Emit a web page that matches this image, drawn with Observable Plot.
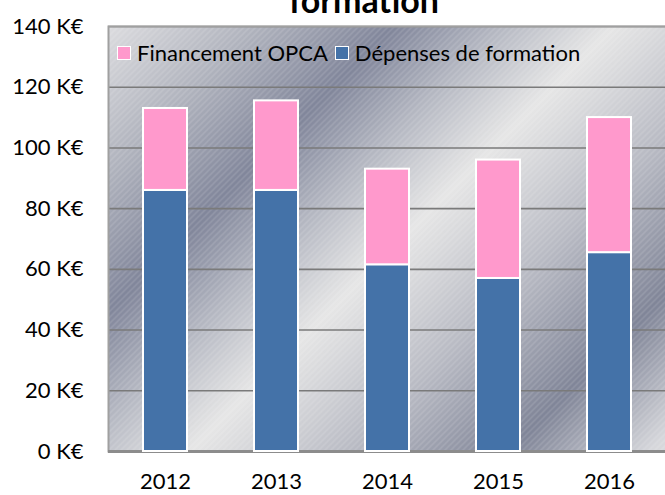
<!DOCTYPE html>
<html>
<head>
<meta charset="utf-8">
<script src="https://cdn.jsdelivr.net/npm/d3@7"></script>
<script src="https://cdn.jsdelivr.net/npm/@observablehq/plot@0.6"></script>
<style>
  html, body { margin: 0; padding: 0; background: white; overflow: hidden; }
  #wrap { position: relative; width: 665px; height: 495px; }
  #legend { position: absolute; left: 117px; top: 42px; display: flex; align-items: center;
    font-family: Lato, sans-serif; font-size: 22px; line-height: 22px; color: #000; white-space: nowrap; }
  #legend .sw { width: 12px; height: 12px; border: 1.5px solid #fff; margin-right: 6px; }
  #legend .item { display: flex; align-items: center; margin-right: 7px; }
</style>
</head>
<body>
<div id="wrap"></div>
<script>
const years = ["2012", "2013", "2014", "2015", "2016"];
const depenses = [86, 86, 61.5, 57, 65.5];        // Dépenses de formation (K€)
const financement = [27, 29.5, 31.5, 39, 44.5];   // Financement OPCA (K€)
const seriesNames = ["Dépenses de formation", "Financement OPCA"];
const seriesColors = ["#4472A8", "#FF99CC"];
const legendOrder = ["Financement OPCA", "Dépenses de formation"];
const yTicks = [0, 20, 40, 60, 80, 100, 120, 140];
const titleText = "formation";

const data = years.flatMap((yr, i) => [
  {year: yr, serie: seriesNames[0], value: depenses[i]},
  {year: yr, serie: seriesNames[1], value: financement[i]}
]);

const svg = Plot.plot({
  width: 665,
  height: 495,
  marginLeft: 108,
  marginRight: -2,
  marginTop: 26,
  marginBottom: 44,
  style: {fontFamily: "Lato, sans-serif", fontSize: "22px", color: "#000", background: "transparent", overflow: "visible"},
  x: {domain: years, paddingInner: 0.6, paddingOuter: 0.3, label: null, tickSize: 0, tickPadding: 22},
  y: {domain: [0, 140], ticks: yTicks, tickFormat: d => `${d} K€`, label: null, tickSize: 0, tickPadding: 25},
  color: {domain: seriesNames, range: seriesColors},
  marks: [
    Plot.frame({fill: "url(#bgGrad)", ariaLabel: "bgframe"}),
    Plot.frame({fill: "url(#hatch)"}),
    Plot.gridY(yTicks, {stroke: "#7a7a7a", strokeOpacity: 1, strokeWidth: 1.6}),
    Plot.frame({stroke: "#a0a0a0", strokeWidth: 2}),
    Plot.ruleY([0], {stroke: "#8c8c8c", strokeWidth: 3}),
    Plot.barY(data, {x: "year", y: "value", fill: "serie", stroke: "white", strokeWidth: 2, order: seriesNames})
  ]
});

const s = d3.select(svg);
const defs = s.insert("defs", ":first-child");
const grad = defs.append("linearGradient").attr("id", "bgGrad")
  .attr("gradientUnits", "userSpaceOnUse")
  .attr("x1", 0).attr("y1", 0).attr("x2", 600).attr("y2", 600);
[
  [0, "#d4d5da"], [0.11, "#dcdcdf"], [0.233, "#b0b3bd"], [0.35, "#80859a"],
  [0.44, "#b5b8c2"], [0.533, "#e6e6e6"], [0.667, "#b8bac3"], [0.8, "#7f8497"],
  [0.917, "#d6d7db"], [1, "#e0e0e0"]
].forEach(([o, c]) => grad.append("stop").attr("offset", o).attr("stop-color", c));

const pat = defs.append("pattern").attr("id", "hatch").attr("patternUnits", "userSpaceOnUse")
  .attr("width", 6).attr("height", 6);
pat.append("path").attr("d", "M0,6 L6,0 M-1,1 L1,-1 M5,7 L7,5")
  .attr("stroke", "#ffffff").attr("stroke-opacity", 0.18).attr("stroke-width", 1.2);

const filt = defs.append("filter").attr("id", "shadow").attr("x", "-10%").attr("y", "-10%").attr("width", "120%").attr("height", "130%");
filt.append("feDropShadow").attr("dx", 0).attr("dy", 5).attr("stdDeviation", 4)
  .attr("flood-color", "#000").attr("flood-opacity", 0.35);
s.select('g[aria-label="bgframe"]').attr("filter", "url(#shadow)");

s.append("text").text(titleText)
  .attr("x", 364).attr("y", 13)
  .attr("text-anchor", "middle")
  .attr("font-family", "Lato, sans-serif")
  .attr("font-weight", "bold")
  .attr("font-size", 34)
  .attr("fill", "#000");

const wrap = document.getElementById("wrap");
wrap.appendChild(svg);

const legend = document.createElement("div");
legend.id = "legend";
legendOrder.forEach(name => {
  const item = document.createElement("div");
  item.className = "item";
  const sw = document.createElement("span");
  sw.className = "sw";
  sw.style.background = seriesColors[seriesNames.indexOf(name)];
  const t = document.createElement("span");
  t.textContent = name;
  item.appendChild(sw);
  item.appendChild(t);
  legend.appendChild(item);
});
wrap.appendChild(legend);
</script>
</body>
</html>
